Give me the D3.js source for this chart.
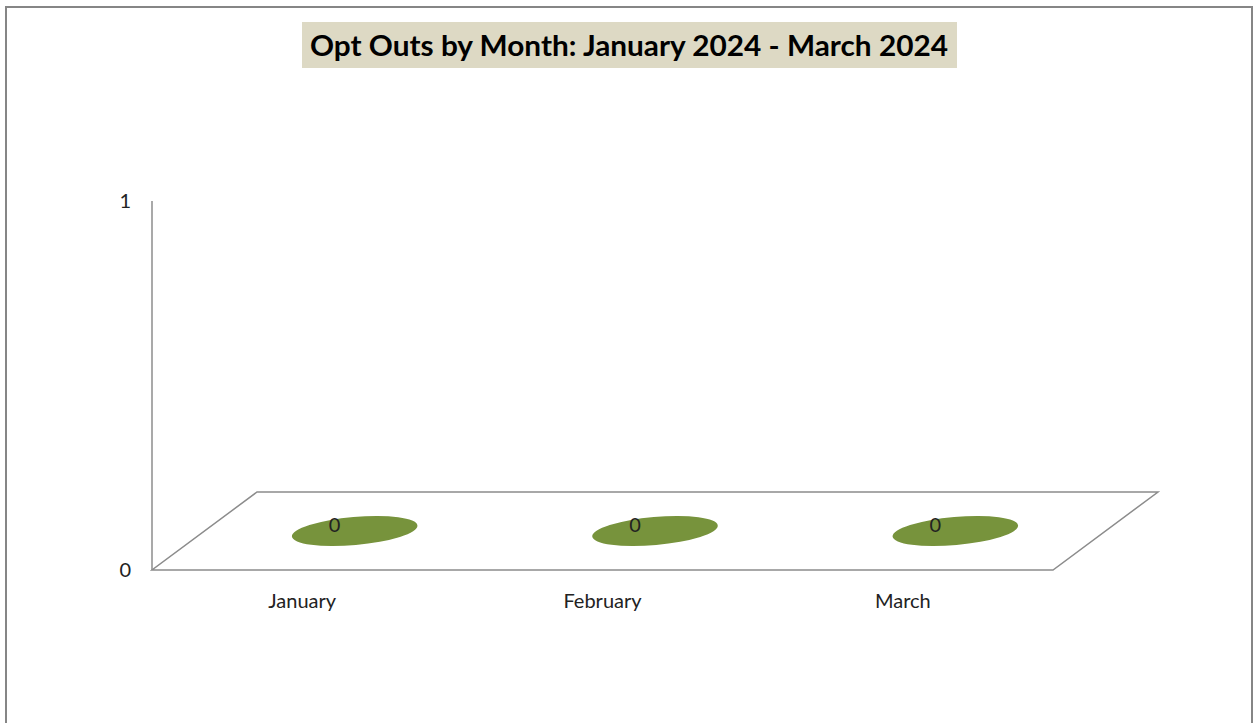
<!DOCTYPE html>
<html><head><meta charset="utf-8">
<script src="https://cdn.jsdelivr.net/npm/d3@7"></script>
<style>body{margin:0;background:#fff}svg{display:block}</style>
</head><body>
<script>
const categories = ["January", "February", "March"];
const values = [0, 0, 0];
const yTicks = [0, 1];
const title = "Opt Outs by Month: January 2024 - March 2024";

const W = 1254, H = 723;
const svg = d3.select("body").append("svg").attr("width", W).attr("height", H);
const font = "Lato, 'Open Sans', sans-serif";

// outer border
svg.append("path").attr("d", `M6,${H} L6,7 L1252,7 L1252,${H}`)
  .attr("fill", "none").attr("stroke", "#868686").attr("stroke-width", 2);

// title
const tb = svg.append("g");
tb.append("rect").attr("x", 302).attr("y", 22).attr("width", 655).attr("height", 46).attr("fill", "#DDD9C4");
tb.append("text").attr("x", 629).attr("y", 56).attr("text-anchor", "middle")
  .attr("font-family", font).attr("font-weight", "bold").attr("font-size", 28).attr("fill", "#000")
  .attr("textLength", 638).attr("lengthAdjust", "spacingAndGlyphs").text(title);

const x0 = 152, x1 = 1053, yBase = 570, yTop = 201;
const dx = 105, dy = -78;
const x = d3.scaleBand().domain(categories).range([x0, x1]);
const y = d3.scaleLinear().domain([0, 1]).range([yBase, yTop]);

// floor
svg.append("path")
  .attr("d", `M${x0},${yBase} L${x1},${yBase} L${x1+dx},${yBase+dy} L${x0+dx},${yBase+dy} Z`)
  .attr("fill", "none").attr("stroke", "#8c8c8c").attr("stroke-width", 1.5);
// vertical axis line
svg.append("line").attr("x1", x0).attr("x2", x0).attr("y1", y(0)).attr("y2", y(1))
  .attr("stroke", "#8c8c8c").attr("stroke-width", 1.5);

// y tick labels
svg.selectAll(".yt").data(yTicks).enter().append("text")
  .attr("x", 131).attr("y", d => y(d) + 7).attr("text-anchor", "end")
  .attr("font-family", font).attr("font-size", 20).attr("fill", "#222").text(d => d);

// x labels
svg.selectAll(".xl").data(categories).enter().append("text")
  .attr("x", d => x(d) + x.bandwidth() / 2).attr("y", 608).attr("text-anchor", "middle")
  .attr("font-family", font).attr("font-size", 20).attr("fill", "#222").text(d => d);

// "bars" (flat ellipses at zero height)
svg.selectAll(".el").data(values).enter().append("ellipse")
  .attr("transform", (d, i) => {
    const cx = x(categories[i]) + x.bandwidth() / 2 + dx / 2;
    const cy = y(d) + dy / 2;
    return `translate(${cx},${cy}) rotate(-5)`;
  })
  .attr("rx", 63).attr("ry", 14).attr("fill", "#77933C");

// value labels
svg.selectAll(".vl").data(values).enter().append("text")
  .attr("x", (d, i) => x(categories[i]) + x.bandwidth() / 2 + dx / 2 - 20)
  .attr("y", (d) => y(d) + dy / 2 + 0.5)
  .attr("text-anchor", "middle").attr("font-family", font).attr("font-size", 20).attr("fill", "#222")
  .text(d => d);
</script>
</body></html>
